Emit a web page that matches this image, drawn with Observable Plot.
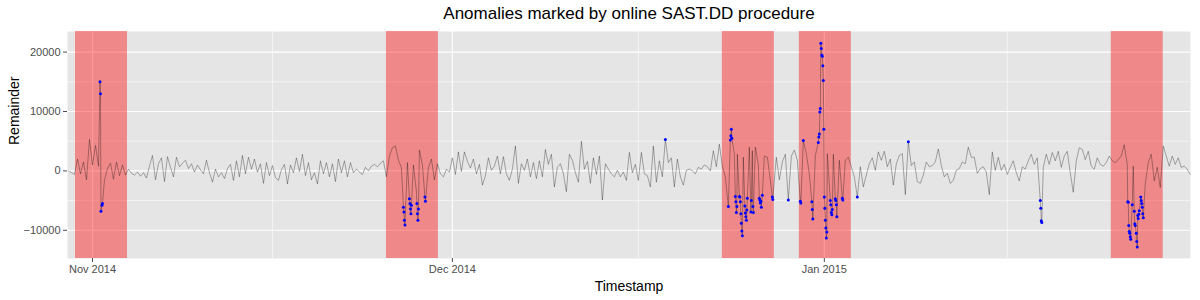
<!DOCTYPE html>
<html>
<head>
<meta charset="utf-8">
<script src="https://cdn.jsdelivr.net/npm/d3@7"></script>
<script src="https://cdn.jsdelivr.net/npm/@observablehq/plot@0.6"></script>
<style>
  html, body { margin: 0; padding: 0; background: #fff; }
  #chart { width: 1200px; height: 300px; }
</style>
</head>
<body>
<div id="chart"></div>
<script>
// ---- data ----
const chartTitle = "Anomalies marked by online SAST.DD procedure";
const xTitle = "Timestamp";
const yTitle = "Remainder";

// regular remainder samples, every 6 hours from 2014-10-30 00:00 UTC
const seriesStart = "2014-10-30T00:00";
const stepHours = 6;
const remainder = [
  0, -300, -600, 2000, -500, 1500, -1500, 5300, 1000, 4300, 800,
  -6200,
  -1500, 400, 1300, -1400, 1500, -800, 1000, -700, 300,
  -400, -700, -200, -900, -300, -1200, 800, 2600, -1500, 1200, 2200, -1800, 2400, 600, -1000, 2300, 700, 1300, 1800, 400, 1200, -200, 1000,
  200, -500, 1800, -300, -1900, 300, -1000, -300, -1300, 400, 1100, -1600, 1700, -1000, 2600, -500, 2300, 300, 2000, -200, 1200, -2100, 1400, -800, 900, -1100, -1600, 200, 1100, -2200, 1000, -300, 2200, -100, 2800, -800, 1400, -1500, -300, -2200,
  1700, -500, 1400, -1000, 1200, -1800, 2000, -300, 1700, -1000, 1400, -300, 300, -200, -600, 600, 0, 800, 1100, 700, 1300, 1700, -1000, 2500, 3900, 4200, 1800, 500, -8300, 1400, -6400, 1000, -3500, 3500, 1000, -5100, 500, 2000, -1500, 1200,
  -500, -1000, 300, -200, 2200, -600, 3200, -100, 3200, 1600, 500, 2000, -500, 1100, -2400, -800, 2200, 100, 800, 2500, -500, 2400, -500, -1600, 300, 4200, -2100, 1200, 100, 2000, -1000, 1400, -1300, 1700, -1000, 3600, 1100, 2800, -2700, 600, 1200, -500, -3500, 2800,
  1800, -300, -1900, 5000, 300, 1600, -2100, 2200, -600, 2500, -4900, 1200, 300, -500, -1000, 100, -1000, -200, -1600, 3100, -300, 1100, -1600, 3100, -500, -800, -2700, 4200, -1900, 1700, -1000, 5300, 1400, 2200, -2700, 2000, -1000, -2400, 100, 300, 0,
  -500, 600, 300, 1000, 700, 0, 3400, 700, 4500, 800, -1000, -6000, 7000, 2900, 2800, -5200, 2300, -8300, 4000, 3400, 4000, 1000, -6100, 2500, 2300, -1500, -3500, 2300, -1500, 1500, 2800, -4900, 2500, 3500, 1800, -5100, 5100, 2900, -500, -6500, 2600, 4800, 20600, -4400, 2900, -5000, 2800, -5700, 1800, -4600, 1800, 2300, 700, -1000, -4400,
  700, -2700, -700, 1200, 2200, 100, 3200, 1800, 3300, 700, 2000, -2400, 1200, 2600, 2900, -4000, 4900, 900, 1500, -1800, -2100, -700, 1500, 700, 900, 1500, 3700, 900, -1000, -400, -2100, -1600, 100, 400, 1500, 1200, 4000, 2300, 2300, -400, 400, 700, -200, -4000, 3200, 100, 2300, 100,
  1100, -600, 600, 1700, -300, -1700, 700, 300, 1700, 2800, 1100, 2200, -5000, 600, 2800, 1100, 3100, 1700, 3300, 600, 2500, 3300, -300, -3600, 1700, 3900, 3600, 1900, 3300, 800, 300, 2200, 1100, 800, 1400, 2500, 1700, 1400, 1900, 2500, 4400, 1100, -11100, 800, -10500, -6700, -6100, -2200, 1400, 2800, -1700, 600, -2800, 4200, 2500, 800, 2500, 1100, 2200, 600, 800, 300, -600
];

// anomalies flagged by the procedure (hourly readings)
const anomalyTimes = [
  "2014-11-01T15:00","2014-11-01T16:00","2014-11-01T17:00","2014-11-01T19:00","2014-11-01T20:00",
  "2014-11-26T22:00","2014-11-26T23:00","2014-11-27T00:00","2014-11-27T01:00",
  "2014-11-27T10:00","2014-11-27T11:00","2014-11-27T12:00","2014-11-27T13:00","2014-11-27T14:00",
  "2014-11-28T01:00","2014-11-28T02:00","2014-11-28T03:00","2014-11-28T04:00",
  "2014-11-28T17:00","2014-11-28T18:00",
  "2014-12-18T18:00",
  "2014-12-24T00:00","2014-12-24T04:00","2014-12-24T05:00","2014-12-24T06:00","2014-12-24T07:00",
  "2014-12-24T14:00","2014-12-24T15:00","2014-12-24T16:00","2014-12-24T17:00",
  "2014-12-24T22:00","2014-12-24T23:00","2014-12-25T00:00","2014-12-25T01:00","2014-12-25T02:00","2014-12-25T03:00","2014-12-25T04:00",
  "2014-12-25T09:00","2014-12-25T10:00","2014-12-25T11:00","2014-12-25T12:00","2014-12-25T13:00","2014-12-25T14:00",
  "2014-12-25T21:00","2014-12-25T22:00","2014-12-26T01:00","2014-12-26T02:00",
  "2014-12-26T14:00","2014-12-26T15:00","2014-12-26T16:00","2014-12-26T17:00","2014-12-26T18:00","2014-12-26T20:00",
  "2014-12-27T16:00","2014-12-27T17:00",
  "2014-12-29T00:00",
  "2014-12-30T00:00","2014-12-30T01:00","2014-12-30T06:00",
  "2014-12-30T23:00","2014-12-31T00:00","2014-12-31T01:00",
  "2014-12-31T12:00","2014-12-31T13:00","2014-12-31T14:00","2014-12-31T15:00","2014-12-31T16:00","2014-12-31T17:00",
  "2014-12-31T18:00","2014-12-31T19:00","2014-12-31T20:00","2014-12-31T21:00","2014-12-31T22:00","2014-12-31T23:00",
  "2015-01-01T00:00","2015-01-01T01:00","2015-01-01T02:00","2015-01-01T03:00","2015-01-01T04:00","2015-01-01T05:00",
  "2015-01-01T12:00","2015-01-01T13:00","2015-01-01T14:00","2015-01-01T15:00","2015-01-01T16:00",
  "2015-01-01T22:00","2015-01-01T23:00","2015-01-02T00:00","2015-01-02T01:00",
  "2015-01-02T12:00","2015-01-02T13:00",
  "2015-01-03T18:00",
  "2015-01-08T00:00",
  "2015-01-19T00:00","2015-01-19T01:00","2015-01-19T02:00","2015-01-19T03:00",
  "2015-01-26T07:00","2015-01-26T08:00","2015-01-26T09:00","2015-01-26T10:00","2015-01-26T11:00","2015-01-26T12:00","2015-01-26T13:00",
  "2015-01-26T16:00","2015-01-26T20:00","2015-01-26T21:00","2015-01-26T22:00",
  "2015-01-27T00:00","2015-01-27T01:00","2015-01-27T02:00","2015-01-27T03:00","2015-01-27T04:00","2015-01-27T05:00","2015-01-27T06:00",
  "2015-01-27T09:00","2015-01-27T10:00","2015-01-27T11:00","2015-01-27T12:00","2015-01-27T13:00","2015-01-27T14:00"
];
const anomalyValues = [
  15000, 13000, -6800, -5800, -5500,
  -6100, -6900, -8300, -9100,
  -4700, -5500, -6400, -7200, -5800,
  -5500, -7200, -8300, -6400,
  -4400, -5100,
  5300,
  -6000, 5200, 5900, 7000, 5500,
  -4300, -5200, -7000, -6000,
  -4300, -4400, -5200, -7200, -8800, -10100, -10900,
  -5900, -7100, -7700, -8300, -6600, -4600,
  -6900, -5000, -6000, -7000,
  -4600, -4900, -5400, -5100, -6100, -4100,
  -4400, -4800,
  -4900,
  -5100, -5400, 5100,
  -5200, -6500, -8100,
  4800, 5700, 6200, 9900, 10500, 21500,
  20600, 19500, 19300, 17700, 15200, 7000,
  -4400, -6300, -8300, -9600, -11300, -10300,
  -5000, -5700, -7000, -7400, -6500,
  -4700, -5000, -5700, -7700,
  -4600, -4900,
  -4400,
  4900,
  -5000, -6300, -8400, -8700,
  -5200, -5300, -9200, -10200, -10500, -11100, -11500,
  -5700, -6800, -8900, -9200,
  -10500, -11900, -12800, -7500, -8000, -7300, -6700,
  -4400, -5000, -5500, -6100, -7200, -7900
];

// anomaly windows (shaded)
const windowStarts = ["2014-10-30T14:00", "2014-11-25T12:00", "2014-12-23T12:00", "2014-12-29T22:00", "2015-01-24T22:00"];
const windowEnds   = ["2014-11-03T22:00", "2014-11-29T20:00", "2014-12-27T20:00", "2015-01-03T06:00", "2015-01-29T06:00"];

// axis ticks
const xTicks = ["2014-11-01", "2014-12-01", "2015-01-01"];
const xMinorTicks = ["2014-11-16", "2014-12-16T12:00", "2015-01-16T06:00"];
const yTicks = [-10000, 0, 10000, 20000];
const yMinorTicks = [-5000, 5000, 15000];
const xDomain = ["2014-10-29T22:00", "2015-01-31T12:30"];
const yDomain = [-14750, 23470];

// ---- build ----
const utc = s => new Date(s + (s.length <= 10 ? "T00:00" : "") + "Z");
const t0 = utc(seriesStart).getTime();
const byTime = new Map();
remainder.forEach((v, i) => byTime.set(t0 + i * stepHours * 3600e3, v));
anomalyTimes.forEach((s, j) => byTime.set(utc(s).getTime(), anomalyValues[j]));
const series = Array.from(byTime, ([t, v]) => ({t: new Date(t), v})).sort((a, b) => a.t - b.t);
const anomalies = anomalyTimes.map((s, j) => ({t: utc(s), v: anomalyValues[j]}));
const windows = windowStarts.map((s, k) => ({start: utc(s), end: utc(windowEnds[k])}));

const font = "'Liberation Sans', Arial, Helvetica, sans-serif";

const chart = Plot.plot({
  width: 1200,
  height: 300,
  marginLeft: 67,
  marginRight: 10,
  marginTop: 31,
  marginBottom: 42,
  style: {fontFamily: font, background: "#fff", overflow: "visible"},
  x: {type: "utc", domain: xDomain.map(utc), axis: null},
  y: {domain: yDomain, axis: null},
  marks: [
    Plot.frame({fill: "#E5E5E5", stroke: null}),
    Plot.ruleY(yMinorTicks, {stroke: "#fff", strokeWidth: 0.55}),
    Plot.ruleX(xMinorTicks.map(utc), {stroke: "#fff", strokeWidth: 0.55}),
    Plot.ruleY(yTicks, {stroke: "#fff", strokeWidth: 1.1}),
    Plot.ruleX(xTicks.map(utc), {stroke: "#fff", strokeWidth: 1.1}),
    Plot.rect(windows, {x1: "start", x2: "end", fill: "red", fillOpacity: 0.4}),
    Plot.line(series, {x: "t", y: "v", stroke: "#000", strokeOpacity: 0.45, strokeWidth: 0.7}),
    Plot.dot(anomalies, {x: "t", y: "v", fill: "blue", r: 1.5, stroke: null}),
    Plot.axisX(xTicks.map(utc), {
      tickFormat: d3.utcFormat("%b %Y"), tickSize: 4, tickPadding: 3,
      fontSize: 11, color: "#4D4D4D", label: null
    }),
    Plot.axisY(yTicks, {
      tickFormat: d3.format("d"), tickSize: 4, tickPadding: 3,
      fontSize: 11, color: "#4D4D4D", label: null
    }),
    Plot.text([chartTitle], {frameAnchor: "top", dy: -18, lineAnchor: "middle", fontSize: 17, fill: "#000"}),
    Plot.text([xTitle], {frameAnchor: "bottom", dy: 28, lineAnchor: "middle", fontSize: 14, fill: "#000"}),
    Plot.text([yTitle], {frameAnchor: "left", dx: -53, rotate: -90, lineAnchor: "middle", fontSize: 14, fill: "#000"})
  ]
});
document.getElementById("chart").appendChild(chart);
</script>
</body>
</html>
